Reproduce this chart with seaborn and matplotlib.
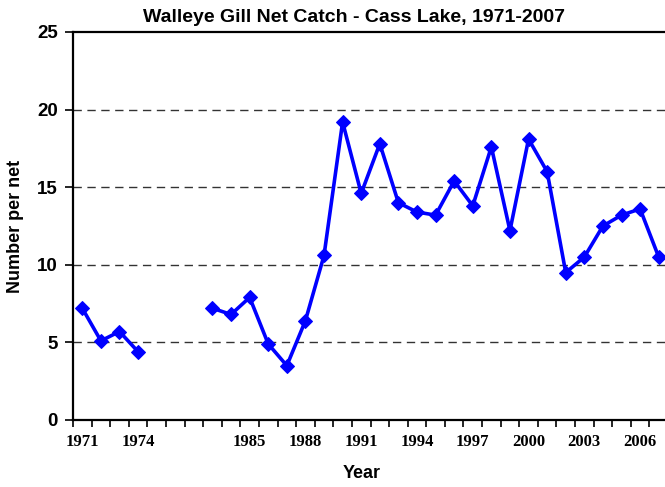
import seaborn as sns
import matplotlib.pyplot as plt
import numpy as np
import pandas as pd

# category labels as on the sheet (blank rows between 1974 and 1983)
years = ['1971', '1972', '1973', '1974', '', '', '', '1983', '1984', '1985',
         '1986', '1987', '1988', '1989', '1990', '1991', '1992', '1993',
         '1994', '1995', '1996', '1997', '1998', '1999', '2000', '2001',
         '2002', '2003', '2004', '2005', '2006', '2007']
catch = [7.2, 5.1, 5.7, 4.4, np.nan, np.nan, np.nan, 7.2, 6.8, 7.9,
         4.9, 3.5, 6.4, 10.6, 19.2, 14.6, 17.8, 14.0,
         13.4, 13.2, 15.4, 13.8, 17.6, 12.2, 18.1, 16.0,
         9.5, 10.5, 12.5, 13.2, 13.6, 10.5]
yticks = [0, 5, 10, 15, 20, 25]

sns.set_style('white')
plt.rcParams['font.family'] = ['Liberation Sans', 'DejaVu Sans']
plt.rcParams['text.color'] = 'black'
plt.rcParams['xtick.color'] = 'black'
plt.rcParams['ytick.color'] = 'black'

df = pd.DataFrame({'pos': range(len(years)), 'catch': catch})
# break the line where there is no data
df['segment'] = df['catch'].isna().cumsum()
df = df.dropna()

fig = plt.figure(figsize=(6.65, 4.87), dpi=100)
ax = fig.add_axes([73 / 665, 67 / 487, 595 / 665, 388 / 487])

for y in yticks[1:-1]:
    ax.axhline(y, color='#333333', lw=1, ls=(0, (6, 4)), zorder=0)

sns.lineplot(data=df, x='pos', y='catch', units='segment', estimator=None,
             color='#0000ff', lw=2.6, marker='D', markersize=7,
             markeredgecolor='#0000ff', ax=ax, legend=False)

ax.set_xlim(-0.5, len(years) - 0.5)
ax.set_ylim(0, 25)
ax.set_yticks(yticks)
ax.set_yticklabels([str(t) for t in yticks], fontsize=13.5, fontweight='bold',
                   color='black')

ax.set_xticks(np.arange(len(years)) - 0.5, minor=True)
ax.set_xticks(range(0, len(years), 3))
ax.set_xticklabels([years[i] for i in range(0, len(years), 3)],
                   family='Liberation Serif', fontsize=12, fontweight='bold',
                   color='black')
ax.tick_params(axis='x', which='major', length=0, pad=10)
ax.tick_params(axis='x', which='minor', length=5, width=1.2, direction='out',
               bottom=True, color='black')
ax.tick_params(axis='y', length=6, width=1.2, direction='out', left=True,
               color='black', pad=5)

for side in ['left', 'bottom', 'top']:
    ax.spines[side].set_color('black')
    ax.spines[side].set_linewidth(1.6)
ax.spines['right'].set_visible(False)

ax.set_xlabel('')
ax.set_ylabel('')
fig.text(362 / 665, 1 - 474 / 487, 'Year', ha='center', va='center',
         fontsize=13, fontweight='bold', color='black')
fig.text(16 / 665, 1 - 226 / 487, 'Number per net', ha='center', va='center',
         rotation=90, fontsize=13, fontweight='bold', color='black')
fig.text(354 / 665, 1 - 18 / 487, 'Walleye Gill Net Catch - Cass Lake, 1971-2007',
         ha='center', va='center', fontsize=14, fontweight='bold', color='black')

fig.savefig('out.png', dpi=100)
